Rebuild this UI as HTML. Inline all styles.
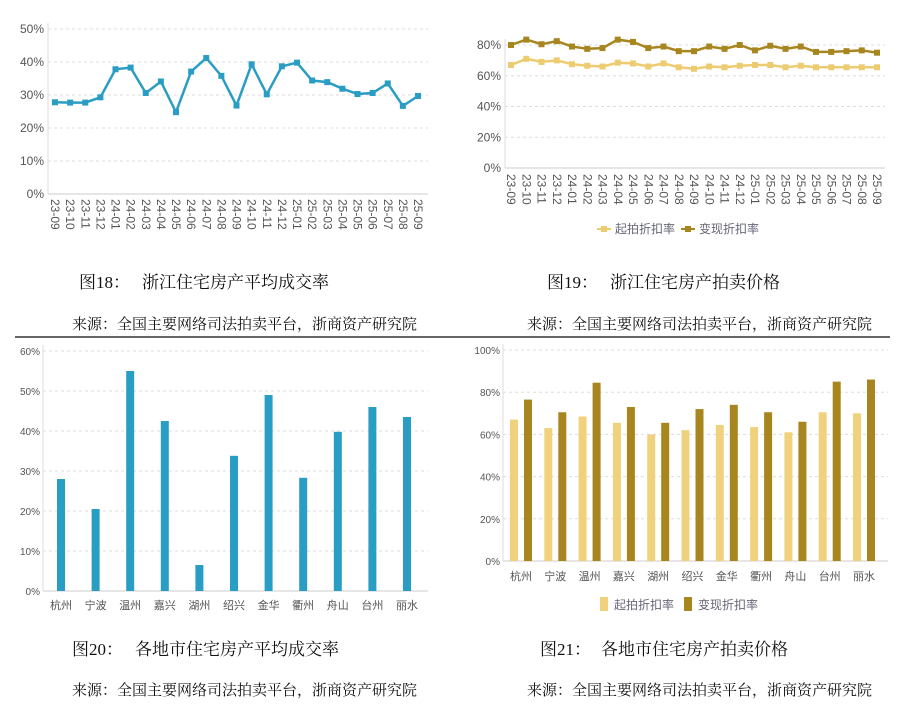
<!DOCTYPE html>
<html><head><meta charset="utf-8"><style>
html,body{margin:0;padding:0;background:#fff;}
svg{display:block;font-family:"Liberation Sans","Noto Sans CJK SC",sans-serif;}
.cap{font-family:"Liberation Serif","Noto Serif CJK SC",serif;font-size:17px;fill:#111;}
.src{font-family:"Liberation Serif","Noto Serif CJK SC",serif;font-size:15px;fill:#111;}
.tk{font-size:12px;fill:#555;}
.tks{font-size:10px;fill:#555;}
</style></head><body>
<svg id="s" width="900" height="704" viewBox="0 0 900 704" xmlns="http://www.w3.org/2000/svg">
<text class="cap" x="79" y="288">图18：</text><text class="cap" x="142" y="288">浙江住宅房产平均成交率</text>
<text class="src" x="72" y="329">来源：全国主要网络司法拍卖平台，浙商资产研究院</text>
<text class="cap" x="547" y="288">图19：</text><text class="cap" x="610" y="288">浙江住宅房产拍卖价格</text>
<text class="src" x="527" y="329">来源：全国主要网络司法拍卖平台，浙商资产研究院</text>
<line x1="15" y1="337" x2="890" y2="337" stroke="#333" stroke-width="1.5"/>
<text class="cap" x="72" y="655">图20：</text><text class="cap" x="135" y="655">各地市住宅房产平均成交率</text>
<text class="src" x="72" y="695">来源：全国主要网络司法拍卖平台，浙商资产研究院</text>
<text class="cap" x="540" y="655">图21：</text><text class="cap" x="601" y="655">各地市住宅房产拍卖价格</text>
<text class="src" x="527" y="695">来源：全国主要网络司法拍卖平台，浙商资产研究院</text>
<g id="g"></g>
</svg>
<script>
var g=document.getElementById('g'),h='';
var months=[];for(var y=23,m=9,i=0;i<25;i++){months.push(y+'-'+(m<10?'0':'')+m);m++;if(m>12){m=1;y++;}}
function grid(x0,x1,y0,step,n,lblstep,suffix,cls,lx){for(var i=0;i<=n;i++){var y=y0-i*step;
 if(i>0)h+='<line x1="'+x0+'" y1="'+y+'" x2="'+x1+'" y2="'+y+'" stroke="#ddd" stroke-dasharray="3,3"/>';
 h+='<text class="'+cls+'" x="'+lx+'" y="'+(y+4)+'" text-anchor="end">'+(i*lblstep)+'%</text>';}
 h+='<line x1="'+x0+'" y1="'+y0+'" x2="'+x1+'" y2="'+y0+'" stroke="#ccc"/><line x1="'+x0+'" y1="'+y0+'" x2="'+x0+'" y2="'+(y0-n*step-6)+'" stroke="#ddd"/>';}
function line(vals,x0,dx,y0,sc,col){var p=[];vals.forEach(function(v,i){p.push((x0+i*dx).toFixed(1)+','+(y0-v*sc).toFixed(1));});
 h+='<polyline points="'+p.join(' ')+'" fill="none" stroke="'+col+'" stroke-width="2.5"/>';
 vals.forEach(function(v,i){h+='<rect x="'+(x0+i*dx-3)+'" y="'+(y0-v*sc-3)+'" width="6" height="6" fill="'+col+'"/>';});}
function xl(x0,dx,y){months.forEach(function(t,i){var x=x0+i*dx;h+='<text class="tk" transform="translate('+(x-4)+','+y+') rotate(90)">'+t+'</text>';});}
grid(48,428,194,33,5,10,'','tk',44);
line([27.8,27.7,27.7,29.3,37.8,38.3,30.6,34.1,24.8,37.1,41.2,35.8,26.8,39.3,30.2,38.7,39.8,34.4,33.9,31.9,30.3,30.6,33.5,26.7,29.7],55,15.125,194,3.3,'#2A9DC4');
xl(55,15.125,199);
grid(505,885,168,30.75,4,20,'','tk',501);
line([67,71,69,70,67.5,66.5,66,68.5,68,66,68,65.5,64.5,66,65.5,66.5,67,67,65.5,66.5,65.5,65.5,65.5,65.5,65.5],511,15.25,168,1.5375,'#EDCB70');
line([80,83.5,80.5,82.5,79,77.5,78,83.5,82,78,79,76,76,79,77.5,80,76.5,79.5,77.5,79,75.5,75.5,76,76.5,75],511,15.25,168,1.5375,'#A8861F');
xl(511,15.25,174);
h+='<line x1="597" y1="229" x2="611" y2="229" stroke="#EDCB70" stroke-width="2"/><rect x="601" y="226" width="6" height="6" fill="#EDCB70"/><text x="615" y="233" font-size="12" fill="#667">起拍折扣率</text>';
h+='<line x1="681" y1="229" x2="695" y2="229" stroke="#A8861F" stroke-width="2"/><rect x="685" y="226" width="6" height="6" fill="#A8861F"/><text x="699" y="233" font-size="12" fill="#667">变现折扣率</text>';
var cities=['杭州','宁波','温州','嘉兴','湖州','绍兴','金华','衢州','舟山','台州','丽水'];
grid(43,428,591,40,6,10,'','tks',40);
[28,20.5,55,42.5,6.5,33.8,49,28.3,39.8,46,43.5].forEach(function(v,i){var x=61+i*34.6;h+='<rect x="'+(x-4)+'" y="'+(591-v*4)+'" width="8" height="'+(v*4)+'" fill="#2A9DC4"/>';
 h+='<text x="'+x+'" y="609" font-size="11" fill="#555" text-anchor="middle">'+cities[i]+'</text>';});
grid(503,888,561,42.2,5,20,'','tks',500);
var L=[67,63,68.5,65.5,60,62,64.5,63.5,61,70.5,70],D=[76.5,70.5,84.5,73,65.5,72,74,70.5,66,85,86];
for(var i=0;i<11;i++){var x=514+i*34.3;h+='<rect x="'+(x-4)+'" y="'+(561-L[i]*2.11)+'" width="8" height="'+(L[i]*2.11)+'" fill="#F0D27E"/>';
 h+='<rect x="'+(x+10)+'" y="'+(561-D[i]*2.11)+'" width="8" height="'+(D[i]*2.11)+'" fill="#A8861F"/>';
 h+='<text x="'+(x+7)+'" y="580" font-size="11" fill="#555" text-anchor="middle">'+cities[i]+'</text>';}
h+='<rect x="600" y="597" width="8" height="14" fill="#F0D27E"/><text x="614" y="609" font-size="12" fill="#667">起拍折扣率</text>';
h+='<rect x="684" y="597" width="8" height="14" fill="#A8861F"/><text x="698" y="609" font-size="12" fill="#667">变现折扣率</text>';
g.innerHTML=h;
</script>
</body></html>
